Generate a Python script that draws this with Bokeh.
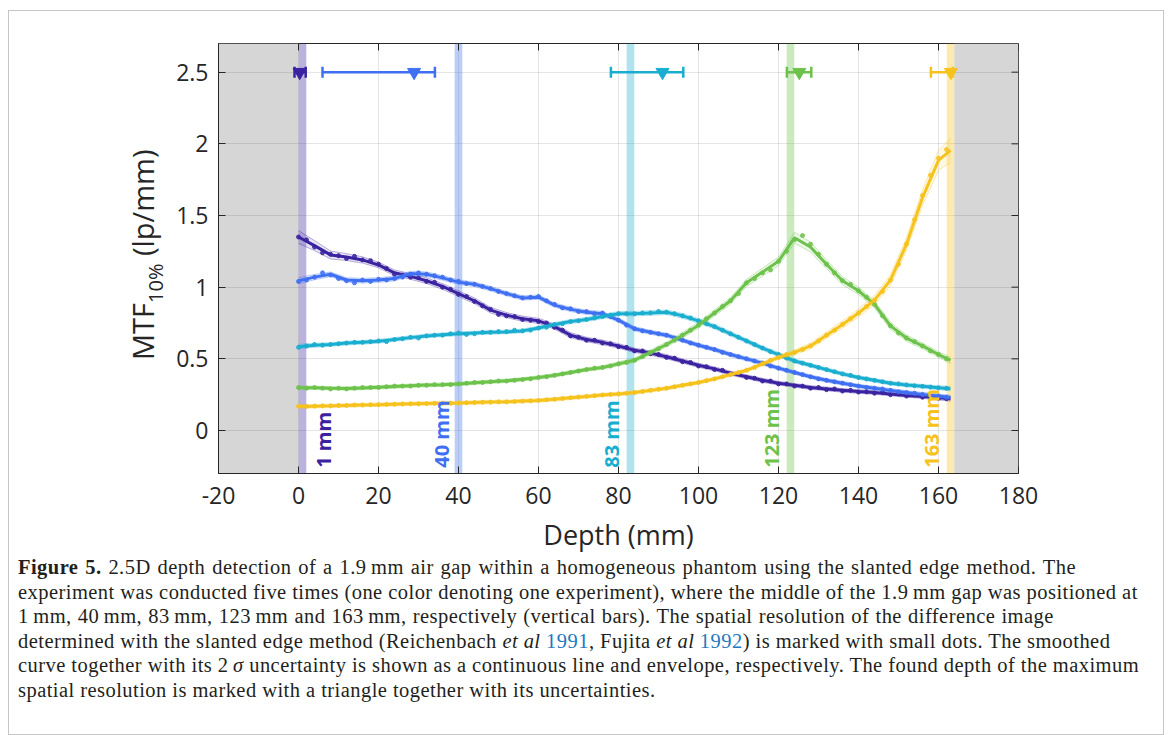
from math import pi
from bokeh.plotting import figure
from bokeh.models import (Range1d, FixedTicker, NumeralTickFormatter,
                          BoxAnnotation, Label, Whisker, TeeHead, ColumnDataSource, Div)
from bokeh.layouts import column, row
from bokeh.embed import file_html
from bokeh.resources import INLINE

# ---------------- data ----------------
X = [0, 4, 8, 12, 16, 20, 24, 28, 32, 36, 40, 44, 48, 52, 56, 60, 64, 68, 72, 76,
     80, 84, 88, 92, 96, 100, 104, 108, 112, 116, 120, 124, 128, 132, 136, 140,
     144, 148, 152, 156, 160, 163]
DOT_X = list(range(0, 163, 2))

GAP_POS = [1, 40, 83, 123, 163]
GAP_WIDTH = 1.9
GAP_LABELS = ["1 mm", "40 mm", "83 mm", "123 mm", "163 mm"]
COLORS = ["#3b22a0", "#3f6ff2", "#19aecf", "#6cc24a", "#f6c21c"]

# smoothed curves (lp/mm)
CURVE_1 = [1.35, 1.29, 1.225, 1.21, 1.19, 1.155, 1.10, 1.075, 1.045, 1.005,
           0.955, 0.905, 0.84, 0.805, 0.78, 0.765, 0.725, 0.665, 0.635, 0.615,
           0.59, 0.56, 0.54, 0.515, 0.485, 0.455, 0.43, 0.40, 0.375, 0.35,
           0.33, 0.315, 0.30, 0.29, 0.28, 0.272, 0.265, 0.255, 0.245, 0.238,
           0.228, 0.222]
CURVE_2 = [1.045, 1.07, 1.09, 1.05, 1.045, 1.05, 1.06, 1.095, 1.09, 1.065,
           1.035, 1.02, 0.99, 0.955, 0.925, 0.93, 0.875, 0.845, 0.825, 0.815,
           0.77, 0.71, 0.685, 0.665, 0.63, 0.595, 0.565, 0.53, 0.50, 0.47,
           0.435, 0.405, 0.375, 0.35, 0.33, 0.31, 0.295, 0.28, 0.265, 0.252,
           0.24, 0.23]
CURVE_3 = [0.585, 0.595, 0.60, 0.61, 0.615, 0.622, 0.635, 0.648, 0.66, 0.668,
           0.675, 0.68, 0.685, 0.688, 0.695, 0.715, 0.74, 0.76, 0.775, 0.795,
           0.815, 0.815, 0.82, 0.825, 0.80, 0.765, 0.725, 0.675, 0.625, 0.575,
           0.53, 0.485, 0.455, 0.425, 0.395, 0.37, 0.35, 0.33, 0.318, 0.308,
           0.298, 0.292]
CURVE_4 = [0.298, 0.298, 0.295, 0.293, 0.297, 0.302, 0.307, 0.312, 0.317, 0.32,
           0.325, 0.333, 0.34, 0.347, 0.357, 0.37, 0.385, 0.405, 0.425, 0.44,
           0.465, 0.49, 0.545, 0.60, 0.665, 0.735, 0.82, 0.905, 1.03, 1.105,
           1.18, 1.345, 1.28, 1.16, 1.045, 0.975, 0.88, 0.73, 0.645, 0.59,
           0.53, 0.49]
CURVE_5 = [0.168, 0.17, 0.172, 0.175, 0.178, 0.18, 0.183, 0.186, 0.188, 0.19,
           0.192, 0.195, 0.198, 0.20, 0.205, 0.21, 0.218, 0.228, 0.238, 0.248,
           0.255, 0.265, 0.28, 0.295, 0.315, 0.335, 0.36, 0.39, 0.42, 0.465,
           0.51, 0.545, 0.59, 0.665, 0.74, 0.82, 0.91, 1.05, 1.30, 1.625,
           1.885, 1.955]

# 2-sigma half widths of the envelopes
SIG_1 = [0.045, 0.035, 0.028, 0.024, 0.022, 0.02, 0.02, 0.02, 0.02, 0.02,
         0.02, 0.02, 0.02, 0.018, 0.018, 0.018, 0.018, 0.018, 0.016, 0.016,
         0.016, 0.015, 0.015, 0.015, 0.015, 0.014, 0.014, 0.014, 0.014, 0.014,
         0.013, 0.013, 0.013, 0.013, 0.013, 0.013, 0.013, 0.013, 0.013, 0.014,
         0.015, 0.017]
SIG_2 = [0.022, 0.018, 0.016, 0.016, 0.016, 0.016, 0.016, 0.016, 0.016, 0.016,
         0.016, 0.016, 0.016, 0.015, 0.015, 0.015, 0.015, 0.015, 0.015, 0.015,
         0.015, 0.015, 0.014, 0.014, 0.014, 0.014, 0.014, 0.014, 0.014, 0.014,
         0.013, 0.013, 0.013, 0.013, 0.013, 0.013, 0.013, 0.013, 0.013, 0.014,
         0.015, 0.016]
SIG_3 = [0.016, 0.014, 0.013, 0.013, 0.013, 0.013, 0.013, 0.013, 0.013, 0.013,
         0.013, 0.013, 0.013, 0.013, 0.013, 0.013, 0.014, 0.014, 0.014, 0.015,
         0.015, 0.016, 0.016, 0.016, 0.016, 0.016, 0.016, 0.016, 0.015, 0.015,
         0.015, 0.014, 0.014, 0.013, 0.013, 0.013, 0.013, 0.013, 0.013, 0.013,
         0.014, 0.015]
SIG_4 = [0.014, 0.012, 0.012, 0.012, 0.012, 0.012, 0.012, 0.012, 0.012, 0.012,
         0.012, 0.012, 0.012, 0.012, 0.012, 0.012, 0.012, 0.012, 0.012, 0.012,
         0.014, 0.015, 0.017, 0.018, 0.02, 0.022, 0.022, 0.024, 0.025, 0.028,
         0.03, 0.038, 0.035, 0.03, 0.028, 0.026, 0.025, 0.025, 0.022, 0.02,
         0.02, 0.022]
SIG_5 = [0.013, 0.012, 0.012, 0.012, 0.012, 0.012, 0.012, 0.012, 0.012, 0.012,
         0.012, 0.012, 0.012, 0.012, 0.012, 0.012, 0.012, 0.012, 0.012, 0.012,
         0.012, 0.012, 0.012, 0.012, 0.012, 0.012, 0.012, 0.012, 0.012, 0.013,
         0.015, 0.017, 0.02, 0.022, 0.025, 0.028, 0.032, 0.038, 0.045, 0.055,
         0.07, 0.085]

# measured points (slanted edge method), every 2 mm
DOTS_1 = [1.35, 1.33, 1.28, 1.24, 1.23, 1.22, 1.20, 1.215, 1.19, 1.185,
          1.16, 1.13, 1.09, 1.085, 1.07, 1.065, 1.04, 1.035, 1.00, 0.985,
          0.95, 0.935, 0.90, 0.87, 0.845, 0.81, 0.80, 0.795, 0.775, 0.77,
          0.76, 0.75, 0.72, 0.70, 0.66, 0.65, 0.63, 0.63, 0.61, 0.605,
          0.585, 0.58, 0.555, 0.555, 0.535, 0.53, 0.51, 0.505, 0.48, 0.475,
          0.45, 0.445, 0.425, 0.42, 0.395, 0.395, 0.37, 0.365, 0.345, 0.345,
          0.325, 0.325, 0.31, 0.31, 0.295, 0.30, 0.285, 0.29, 0.275, 0.28,
          0.268, 0.27, 0.26, 0.265, 0.25, 0.255, 0.24, 0.248, 0.232, 0.235,
          0.225, 0.222]
DOTS_2 = [1.04, 1.05, 1.07, 1.10, 1.085, 1.06, 1.045, 1.03, 1.05, 1.04,
          1.055, 1.05, 1.06, 1.07, 1.09, 1.10, 1.09, 1.08, 1.07, 1.05,
          1.04, 1.025, 1.02, 1.005, 0.99, 0.97, 0.955, 0.94, 0.925, 0.93,
          0.935, 0.905, 0.88, 0.855, 0.85, 0.83, 0.83, 0.815, 0.82, 0.795,
          0.77, 0.735, 0.71, 0.695, 0.685, 0.675, 0.665, 0.645, 0.63, 0.61,
          0.595, 0.58, 0.565, 0.545, 0.53, 0.515, 0.50, 0.485, 0.47, 0.45,
          0.435, 0.42, 0.405, 0.39, 0.375, 0.36, 0.35, 0.34, 0.33, 0.32,
          0.31, 0.30, 0.295, 0.29, 0.28, 0.27, 0.265, 0.26, 0.252, 0.245,
          0.24, 0.232]
DOTS_3 = [0.58, 0.59, 0.60, 0.595, 0.60, 0.605, 0.61, 0.615, 0.615, 0.62,
          0.625, 0.62, 0.635, 0.64, 0.65, 0.645, 0.66, 0.665, 0.665, 0.675,
          0.68, 0.67, 0.675, 0.685, 0.685, 0.69, 0.69, 0.70, 0.695, 0.70,
          0.715, 0.72, 0.74, 0.745, 0.76, 0.765, 0.775, 0.785, 0.795, 0.805,
          0.815, 0.815, 0.815, 0.82, 0.82, 0.83, 0.825, 0.815, 0.80, 0.785,
          0.765, 0.745, 0.725, 0.70, 0.675, 0.65, 0.625, 0.60, 0.575, 0.55,
          0.53, 0.505, 0.485, 0.47, 0.455, 0.44, 0.425, 0.41, 0.395, 0.385,
          0.37, 0.36, 0.35, 0.34, 0.33, 0.325, 0.318, 0.312, 0.308, 0.303,
          0.298, 0.294]
DOTS_4 = [0.30, 0.295, 0.30, 0.295, 0.29, 0.295, 0.29, 0.295, 0.30, 0.30,
          0.30, 0.305, 0.31, 0.31, 0.31, 0.315, 0.315, 0.32, 0.32, 0.32,
          0.325, 0.33, 0.335, 0.335, 0.34, 0.345, 0.345, 0.35, 0.355, 0.36,
          0.37, 0.375, 0.385, 0.395, 0.405, 0.415, 0.425, 0.435, 0.44, 0.45,
          0.465, 0.475, 0.49, 0.515, 0.545, 0.57, 0.60, 0.63, 0.665, 0.70,
          0.735, 0.78, 0.82, 0.865, 0.905, 0.955, 1.03, 1.06, 1.10, 1.12,
          1.18, 1.25, 1.33, 1.36, 1.30, 1.23, 1.16, 1.10, 1.045, 1.02,
          0.975, 0.93, 0.88, 0.80, 0.73, 0.68, 0.645, 0.62, 0.59, 0.555,
          0.53, 0.50]
DOTS_5 = [0.17, 0.168, 0.17, 0.172, 0.172, 0.175, 0.175, 0.178, 0.178, 0.18,
          0.18, 0.182, 0.183, 0.185, 0.186, 0.187, 0.188, 0.19, 0.19, 0.19,
          0.192, 0.194, 0.195, 0.197, 0.198, 0.20, 0.20, 0.202, 0.205, 0.207,
          0.21, 0.214, 0.218, 0.223, 0.228, 0.233, 0.238, 0.243, 0.248, 0.252,
          0.255, 0.26, 0.265, 0.272, 0.28, 0.288, 0.295, 0.305, 0.315, 0.325,
          0.335, 0.348, 0.36, 0.375, 0.39, 0.405, 0.42, 0.44, 0.465, 0.49,
          0.51, 0.53, 0.545, 0.565, 0.59, 0.625, 0.665, 0.70, 0.74, 0.78,
          0.82, 0.865, 0.91, 0.97, 1.05, 1.16, 1.30, 1.47, 1.64, 1.78,
          1.90, 1.96]

CURVES = [CURVE_1, CURVE_2, CURVE_3, CURVE_4, CURVE_5]
SIGMAS = [SIG_1, SIG_2, SIG_3, SIG_4, SIG_5]
DOTS = [DOTS_1, DOTS_2, DOTS_3, DOTS_4, DOTS_5]

# found depth of maximum resolution (triangle) and its uncertainty
PEAK_X = [0.3, 28.9, 91.0, 125.2, 163.1]
PEAK_LO = [-1.0, 6.0, 78.1, 122.1, 158.1]
PEAK_HI = [1.8, 34.1, 96.2, 128.2, 163.6]
PEAK_Y = [2.5, 2.5, 2.5, 2.5, 2.5]

X_MIN, X_MAX = -20, 180
Y_MIN, Y_MAX = -0.3, 2.7
XTICKS = [-20, 0, 20, 40, 60, 80, 100, 120, 140, 160, 180]
YTICKS = [0, 0.5, 1, 1.5, 2, 2.5]
OUTSIDE = [(-20, 0), (163.95, 180)]

# ---------------- figure ----------------
INK = "#262626"
FONT = "Open Sans"
FRAME_W, FRAME_H = 800, 430
TICK_PX = 7

p = figure(frame_width=FRAME_W, frame_height=FRAME_H,
           x_range=Range1d(X_MIN, X_MAX), y_range=Range1d(Y_MIN, Y_MAX),
           output_backend="svg", toolbar_location=None,
           min_border_left=49, min_border_right=145,
           min_border_top=32, min_border_bottom=81,
           background_fill_color="white", border_fill_color="white",
           outline_line_color=INK, outline_line_width=1)

for ax in (p.xaxis[0], p.yaxis[0]):
    ax.major_tick_in = TICK_PX
    ax.major_tick_out = 0
    ax.minor_tick_in = 0
    ax.minor_tick_out = 0
    ax.axis_line_color = INK
    ax.major_tick_line_color = INK
    ax.major_label_text_font = FONT
    ax.major_label_text_font_size = "23px"
    ax.major_label_text_color = INK
    ax.axis_label_text_font = FONT
    ax.axis_label_text_font_size = "27px"
    ax.axis_label_text_font_style = "normal"
    ax.axis_label_text_color = INK

p.xaxis.ticker = FixedTicker(ticks=XTICKS)
p.yaxis.ticker = FixedTicker(ticks=YTICKS)
p.xaxis.formatter = NumeralTickFormatter(format="0")
p.yaxis.formatter = NumeralTickFormatter(format="0.[0]")
p.xaxis.axis_label = "Depth (mm)"
p.xaxis.major_label_standoff = 13
p.xaxis.axis_label_standoff = 9
p.yaxis.major_label_standoff = 10

p.xgrid.ticker = FixedTicker(ticks=XTICKS)
p.ygrid.ticker = FixedTicker(ticks=YTICKS)
p.grid.grid_line_color = "#000000"
p.grid.grid_line_alpha = 0.1
p.grid.grid_line_width = 1

# outside-phantom regions
for lo, hi in OUTSIDE:
    p.add_layout(BoxAnnotation(left=lo, right=hi, fill_color="#d6d6d6", fill_alpha=1.0,
                               line_alpha=0, level="image"))

# gap position bars
for pos, c in zip(GAP_POS, COLORS):
    p.add_layout(BoxAnnotation(left=pos - GAP_WIDTH / 2, right=pos + GAP_WIDTH / 2,
                               fill_color=c, fill_alpha=0.35, line_alpha=0,
                               level="underlay"))

# curves, envelopes, dots
for curve, sig, dots, c in zip(CURVES, SIGMAS, DOTS, COLORS):
    upper = [y + s for y, s in zip(curve, sig)]
    lower = [y - s for y, s in zip(curve, sig)]
    p.varea(x=X, y1=lower, y2=upper, fill_color=c, fill_alpha=0.12)
    p.line(X, upper, line_color=c, line_alpha=0.35, line_width=1)
    p.line(X, lower, line_color=c, line_alpha=0.35, line_width=1)
    p.scatter(DOT_X, dots, size=4, color=c, alpha=0.85)
    p.line(X, curve, line_color=c, line_width=3)

# peak markers with uncertainties
for i, c in enumerate(COLORS):
    src = ColumnDataSource(dict(base=[PEAK_Y[i]], lower=[PEAK_LO[i]], upper=[PEAK_HI[i]]))
    w = Whisker(source=src, base="base", lower="lower", upper="upper", dimension="width",
                line_color=c, line_width=2.5, level="underlay",
                upper_head=TeeHead(size=11, line_color=c, line_width=2.5),
                lower_head=TeeHead(size=11, line_color=c, line_width=2.5))
    p.add_layout(w)
p.scatter(PEAK_X, PEAK_Y, marker="inverted_triangle", size=13, color=COLORS, line_color=COLORS)

# gap labels
LABEL_DX = [21, -17, -19, -19, -19]
for pos, txt, c, dx in zip(GAP_POS, GAP_LABELS, COLORS, LABEL_DX):
    p.add_layout(Label(x=pos, y=-0.26, x_offset=dx, text=txt, angle=pi / 2,
                       text_align="left", text_baseline="alphabetic",
                       text_font=FONT, text_font_size="20px", text_font_style="bold",
                       text_color=c))

# inward ticks on the right and top edges of the box
dx_tick = TICK_PX * (X_MAX - X_MIN) / FRAME_W
dy_tick = TICK_PX * (Y_MAX - Y_MIN) / FRAME_H
p.segment(x0=[X_MAX] * len(YTICKS), x1=[X_MAX - dx_tick] * len(YTICKS),
          y0=YTICKS, y1=YTICKS, line_color=INK, line_width=1)
p.segment(x0=XTICKS, x1=XTICKS, y0=[Y_MAX] * len(XTICKS),
          y1=[Y_MAX - dy_tick] * len(XTICKS), line_color=INK, line_width=1)

# ---------------- y-axis label (HTML, rotated) ----------------
ylab = Div(
    text=('<div style="position:relative;width:160px;height:543px;">'
          '<div style="position:absolute;left:119px;top:349px;transform:rotate(-90deg);'
          'transform-origin:left top;white-space:nowrap;font-family:\'Open Sans\';'
          'font-size:29px;line-height:29px;color:#262626;">'
          'MTF<span style="font-size:20px;position:relative;top:9px;">10%</span> (lp/mm)'
          '</div></div>'),
    width=160, height=543, margin=0)

# ---------------- caption ----------------
LINK = "#2279c0"
lines = [
    '<span style="word-spacing:1.3px"><b>Figure 5.</b> 2.5D depth detection of a 1.9&#8201;mm air gap within a homogeneous phantom using the slanted edge method. The</span>',
    'experiment was conducted five times (one color denoting one experiment), where the middle of the 1.9&#8201;mm gap was positioned at',
    '<span style="word-spacing:0.6px">1&#8201;mm, 40&#8201;mm, 83&#8201;mm, 123&#8201;mm and 163&#8201;mm, respectively (vertical bars). The spatial resolution of the difference image</span>',
    'determined with the slanted edge method (Reichenbach <i>et al</i> <span style="color:%s">1991</span>, Fujita <i>et al</i> <span style="color:%s">1992</span>) is marked with small dots. The smoothed' % (LINK, LINK),
    'curve together with its 2&#8201;<i>&sigma;</i> uncertainty is shown as a continuous line and envelope, respectively. The found depth of the maximum',
    'spatial resolution is marked with a triangle together with its uncertainties.',
]
caption = Div(
    text=('<div style="font-family:\'Liberation Serif\',\'Times New Roman\',serif;font-size:20.5px;'
          'letter-spacing:0.45px;line-height:24.5px;color:#231f20;white-space:nowrap;'
          'padding-left:9px;">'
          + '<br>'.join(lines) + '</div>'),
    width=1154, height=179, margin=0)

layout = column(row(ylab, p), caption,
                styles={"border": "1px solid #c6c6c6", "margin-left": "8px", "margin-top": "10px"})

open("out.html", "w").write(file_html(layout, INLINE))
